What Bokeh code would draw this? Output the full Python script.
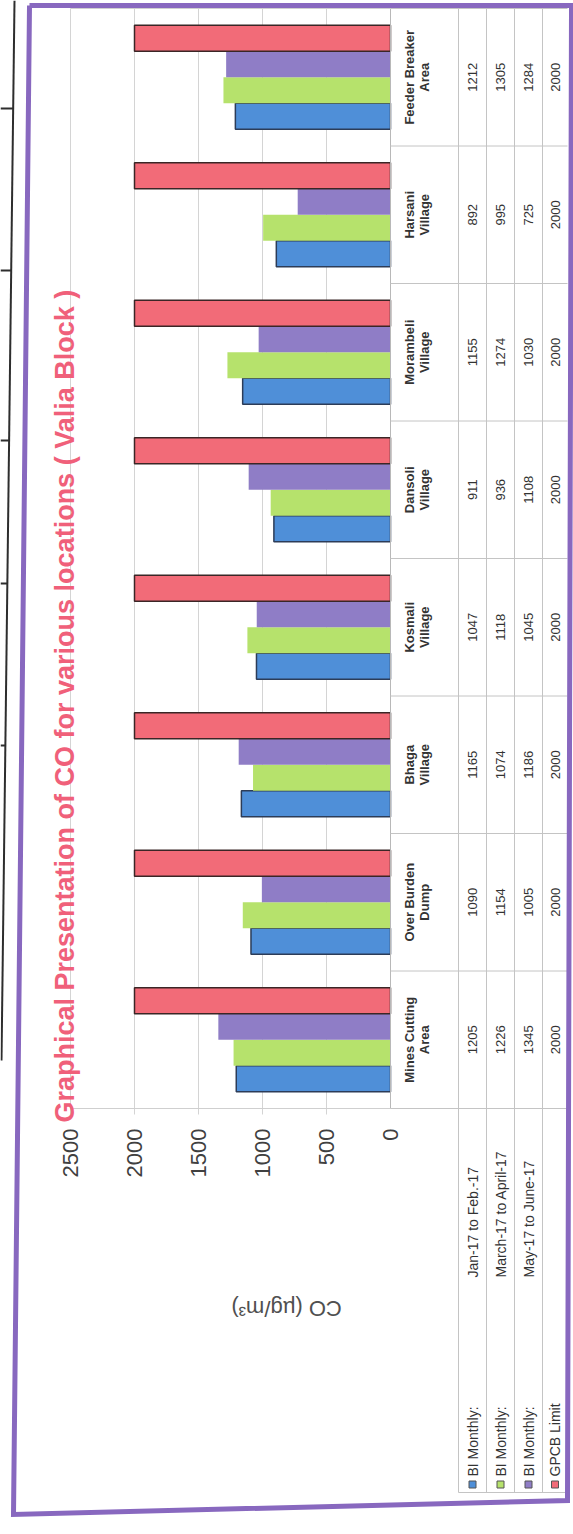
import math
from bokeh.plotting import figure
from bokeh.models import Range1d, ColumnDataSource
from bokeh.core.properties import value
from bokeh.embed import file_html
from bokeh.resources import INLINE

# ---------------- data ----------------
categories = ["Mines Cutting Area", "Over Burden Dump", "Bhaga Village", "Kosmali Village",
              "Dansoli Village", "Morambeli Village", "Harsani Village", "Feeder Breaker Area"]
cat_line1 = ["Mines Cutting", "Over Burden", "Bhaga", "Kosmali",
             "Dansoli", "Morambeli", "Harsani", "Feeder Breaker"]
cat_line2 = ["Area", "Dump", "Village", "Village", "Village", "Village", "Village", "Area"]
jan_feb = [1205, 1090, 1165, 1047, 911, 1155, 892, 1212]
mar_apr = [1226, 1154, 1074, 1118, 936, 1274, 995, 1305]
may_jun = [1345, 1005, 1186, 1045, 1108, 1030, 725, 1284]
gpcb_limit = [2000, 2000, 2000, 2000, 2000, 2000, 2000, 2000]
series_names = ["BI Monthly:", "BI Monthly:", "BI Monthly:", "GPCB Limit"]
series_periods = ["Jan-17 to Feb.-17", "March-17 to April-17", "May-17 to June-17"]
value_ticks = [0, 500, 1000, 1500, 2000, 2500]
title_text = "Graphical Presentation of CO for various locations ( Valia Block )"
axis_title = "CO   (\u00b5g/m\u00b3)"

# ---------------- layout (page is rotated 90 degrees) ----------------
W, H = 573, 1534
X0, KX = 390.0, 0.128      # pixel of value 0, pixels per unit
YB, CH = 1108.0, 137.5     # pixel of the category axis end, pixels per category


def dx(px):
    return (X0 - px) / KX


def dy(py):
    return (YB - py) / CH


FONT = value("Liberation Sans")
fills = ["#4f8fd8", "#b6e26c", "#8f7dc6", "#f26b78"]
edges = ["#2c3c58", None, None, "#3a2626"]

p = figure(width=W, height=H, x_range=Range1d(dx(0), dx(W)), y_range=Range1d(dy(H), dy(0)),
           output_backend="svg", toolbar_location=None, min_border=0,
           x_axis_location=None, y_axis_location=None,
           background_fill_color="white", border_fill_color="white")
p.outline_line_color = None
p.grid.visible = False

n = len(categories)
centers = [i + 0.5 for i in range(n)]

# gridlines + tick marks
grid_ticks = [t for t in value_ticks if t > 0]
p.segment(x0=grid_ticks, y0=dy(YB + 6), x1=grid_ticks, y1=dy(8), line_color="#d4d4d4", line_width=1)
# plot area top / bottom lines
p.segment(x0=[dx(X0), dx(X0)], y0=[dy(8), dy(YB)], x1=[value_ticks[-1], value_ticks[-1]],
          y1=[dy(8), dy(YB)], line_color="#cfcfcf", line_width=1)

# bars
bar_h = 26 / CH
for k, vals in enumerate([jan_feb, mar_apr, may_jun, gpcb_limit]):
    off = (k - 1.5) * bar_h
    src = ColumnDataSource(dict(y=[c + off for c in centers], right=vals))
    p.hbar(y="y", left=0, right="right", height=bar_h, source=src,
           fill_color=fills[k], line_color=edges[k], line_width=1.5 if edges[k] else 0)

# data table grid
row_edges = [X0, 458, 486, 514, 542, 567]
row_centers = [(row_edges[i + 1] + row_edges[i + 2]) / 2 for i in range(4)]
# category axis line
p.segment(x0=[0], y0=[dy(8)], x1=[0], y1=[dy(YB)], line_color="#b8b8b8", line_width=1)
# table lines along categories
p.segment(x0=[dx(x) for x in row_edges[1:5]], y0=dy(8), x1=[dx(x) for x in row_edges[1:5]], y1=dy(1492),
          line_color="#c4c4c4", line_width=1)
bounds = [float(i) for i in range(n + 1)]
p.segment(x0=dx(X0), y0=bounds, x1=dx(row_edges[-1]), y1=bounds, line_color="#c4c4c4", line_width=1)
p.segment(x0=[dx(row_edges[1])], y0=[dy(1492)], x1=[dx(row_edges[-1])], y1=[dy(1492)],
          line_color="#c4c4c4", line_width=1)

# category labels in table
p.text(x=dx(409), y=centers, text=cat_line1, angle=math.pi / 2, text_align="center",
       text_baseline="middle", text_font=FONT, text_font_size="13px", text_font_style="bold",
       text_color="#333333")
p.text(x=dx(424), y=centers, text=cat_line2, angle=math.pi / 2, text_align="center",
       text_baseline="middle", text_font=FONT, text_font_size="13px", text_font_style="bold",
       text_color="#333333")

# table values
for k, vals in enumerate([jan_feb, mar_apr, may_jun, gpcb_limit]):
    p.text(x=dx(row_centers[k]), y=centers, text=[str(v) for v in vals], angle=math.pi / 2,
           text_align="center", text_baseline="middle", text_font=FONT, text_font_size="13px",
           text_color="#333333")

# legend column of the table
p.rect(x=[dx(c) for c in row_centers], y=dy(1484), width=7, height=7, width_units="screen",
       height_units="screen", fill_color=fills, line_color="#555555", line_width=1)
p.text(x=[dx(c) for c in row_centers], y=dy(1476), text=series_names, angle=math.pi / 2,
       text_align="left", text_baseline="middle", text_font=FONT, text_font_size="14px",
       text_color="#333333")
p.text(x=[dx(c) for c in row_centers[:3]], y=dy(1277), text=series_periods, angle=math.pi / 2,
       text_align="left", text_baseline="middle", text_font=FONT, text_font_size="14px",
       text_color="#333333")

# value axis tick labels
p.text(x=value_ticks, y=dy(1128), text=[str(t) for t in value_ticks], angle=math.pi / 2,
       text_align="right", text_baseline="middle", text_font=FONT, text_font_size="22px",
       text_color="#404040")

# axis title (upside down after rotation)
p.text(x=[dx(280)], y=[dy(1308)], text=[axis_title], angle=math.pi, text_align="center",
       text_baseline="middle", text_font=FONT, text_font_size="22px", text_color="#505050")

# chart title
p.text(x=[dx(64)], y=[dy(1122)], text=[title_text], angle=math.pi / 2, text_align="left",
       text_baseline="alphabetic", text_font=FONT, text_font_size="27px", text_font_style="bold",
       text_color="#f0607a")

# purple chart frame
fx = [29, 571, 567, 13, 29]
fy = [5, 5, 1500, 1514, 5]
p.line(x=[dx(v) for v in fx], y=[dy(v) for v in fy], line_color="#8868bf", line_width=5,
       line_join="miter")

# scanned page border on the far left
p.line(x=[dx(14), dx(1)], y=[dy(0), dy(1060)], line_color="#2e2e2e", line_width=2)
tick_y = [108, 270, 440, 583, 745]
p.segment(x0=[dx(14 - 13 * t / 1060) for t in tick_y], y0=[dy(t) for t in tick_y],
          x1=dx(0), y1=[dy(t) for t in tick_y], line_color="#2e2e2e", line_width=2)

open("out.html", "w").write(file_html(p, INLINE))
